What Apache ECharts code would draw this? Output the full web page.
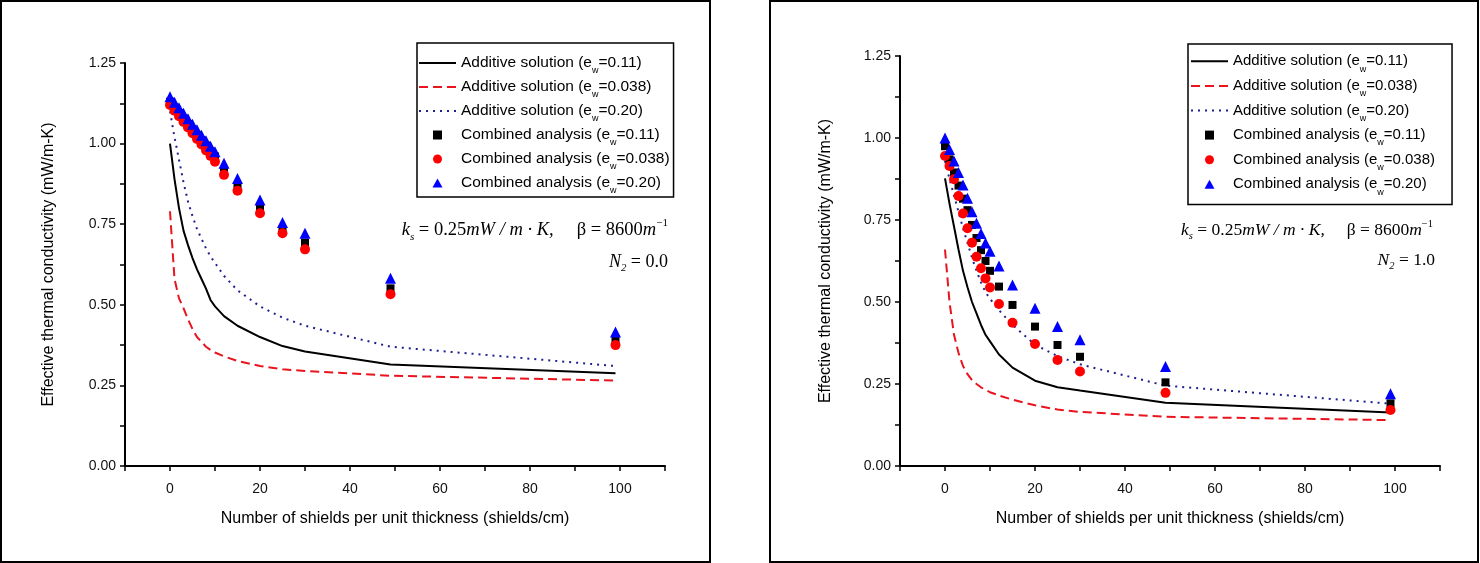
<!DOCTYPE html>
<html><head><meta charset="utf-8">
<script src="https://cdn.jsdelivr.net/npm/echarts@6/dist/echarts.min.js"></script>
<style>html,body{margin:0;padding:0;background:#fff}#c{width:1480px;height:563px}</style>
</head><body><div id="c"></div>
<script>
// Shield densities (shields/cm) at which all curves and points are given
const shieldsX = [0,1,2,3,4,5,6,7,8,9,10,12,15,20,25,30,49,99];

// Left panel, N2 = 0.0
const leftAdd011  = [1.00,0.89,0.80,0.73,0.685,0.645,0.61,0.58,0.55,0.515,0.495,0.465,0.435,0.40,0.372,0.355,0.315,0.288];
const leftAdd0038 = [0.79,0.58,0.52,0.49,0.455,0.425,0.40,0.385,0.37,0.36,0.352,0.34,0.326,0.31,0.30,0.295,0.28,0.265];
const leftAdd020  = [1.10,1.02,0.95,0.88,0.82,0.775,0.735,0.705,0.675,0.65,0.63,0.59,0.545,0.495,0.46,0.435,0.37,0.31];
const leftCA011   = [1.130,1.112,1.095,1.078,1.061,1.044,1.027,1.011,0.994,0.977,0.960,0.918,0.868,0.804,0.732,0.693,0.551,0.394];
const leftCA0038  = [1.120,1.102,1.085,1.067,1.050,1.032,1.014,0.997,0.979,0.962,0.944,0.903,0.854,0.784,0.722,0.672,0.533,0.375];
const leftCA020   = [1.145,1.128,1.111,1.094,1.077,1.060,1.043,1.026,1.009,0.992,0.975,0.939,0.892,0.825,0.755,0.722,0.582,0.416];

// Right panel, N2 = 1.0
const rightAdd011  = [0.877,0.80,0.73,0.66,0.595,0.545,0.50,0.465,0.43,0.40,0.38,0.34,0.30,0.26,0.24,0.23,0.193,0.163];
const rightAdd0038 = [0.66,0.50,0.40,0.345,0.305,0.28,0.262,0.25,0.24,0.232,0.225,0.215,0.202,0.185,0.172,0.165,0.15,0.14];
const rightAdd020  = [0.93,0.875,0.825,0.775,0.725,0.68,0.635,0.595,0.56,0.53,0.51,0.475,0.43,0.37,0.335,0.31,0.245,0.19];
const rightCA011   = [0.975,0.935,0.895,0.855,0.815,0.78,0.735,0.695,0.658,0.625,0.595,0.547,0.491,0.425,0.369,0.333,0.255,0.191];
const rightCA0038  = [0.945,0.915,0.874,0.823,0.770,0.725,0.681,0.638,0.603,0.572,0.544,0.494,0.437,0.372,0.323,0.288,0.223,0.171];
const rightCA020   = [1.00,0.965,0.93,0.895,0.857,0.816,0.775,0.74,0.709,0.68,0.655,0.61,0.552,0.481,0.425,0.385,0.303,0.220];

const seriesNames = [
  'Additive solution (e_w=0.11)',
  'Additive solution (e_w=0.038)',
  'Additive solution (e_w=0.20)',
  'Combined analysis (e_w=0.11)',
  'Combined analysis (e_w=0.038)',
  'Combined analysis (e_w=0.20)'
];
const xTitle = 'Number of shields per unit thickness (shields/cm)';
const yTitle = 'Effective thermal conductivity (mW/m-K)';

const SANS = '"Liberation Sans", Arial, sans-serif';
const SERIF = '"Liberation Serif", "Times New Roman", serif';

function pairs(ys){ return shieldsX.map((x,i)=>[x, ys[i]]); }

function xAxis(g){
  return {type:'value', gridIndex:g, min:-10, max:110, interval:10,
    axisLine:{show:true, onZero:false, lineStyle:{color:'#000', width:2}},
    axisTick:{show:true, length:5, lineStyle:{color:'#000', width:1.5}},
    splitLine:{show:false},
    axisLabel:{margin:16, fontSize:14, color:'#111', fontFamily:SANS,
      formatter: v => (v>=0 && v<=100 && v%20===0) ? String(v) : ''},
    name:xTitle, nameLocation:'middle', nameGap:45,
    nameTextStyle:{fontSize:16, color:'#000', fontFamily:SANS}};
}
function yAxis(g, gap){
  return {type:'value', gridIndex:g, min:0, max:1.25, interval:0.125,
    axisLine:{show:true, onZero:false, lineStyle:{color:'#000', width:2}},
    axisTick:{show:true, length:5, lineStyle:{color:'#000', width:1.5}},
    splitLine:{show:false},
    axisLabel:{margin:9, fontSize:14, color:'#111', fontFamily:SANS,
      formatter: v => { const k = v/0.25; return Math.abs(k-Math.round(k))<1e-6 ? v.toFixed(2) : ''; }},
    name:yTitle, nameLocation:'middle', nameRotate:90, nameGap:gap,
    nameTextStyle:{fontSize:16, color:'#000', fontFamily:SANS}};
}

function panelSeries(g, add011, add0038, add020, ca011, ca0038, ca020){
  const common = {xAxisIndex:g, yAxisIndex:g};
  return [
    Object.assign({type:'line', name:seriesNames[0], data:pairs(add011), symbol:'none', showSymbol:false,
      lineStyle:{color:'#000', width:2, type:'solid'}, itemStyle:{color:'#000'}, z:2}, common),
    Object.assign({type:'line', name:seriesNames[1], data:pairs(add0038), symbol:'none', showSymbol:false,
      lineStyle:{color:'#e8141e', width:2, type:[9,5]}, itemStyle:{color:'#e8141e'}, z:2}, common),
    Object.assign({type:'line', name:seriesNames[2], data:pairs(add020), symbol:'none', showSymbol:false,
      lineStyle:{color:'#1f1f8f', width:2, type:[2,5]}, itemStyle:{color:'#1f1f8f'}, z:2}, common),
    Object.assign({type:'scatter', name:seriesNames[3], data:pairs(ca011), symbol:'rect', symbolSize:8,
      itemStyle:{color:'#000', opacity:1}, z:3}, common),
    Object.assign({type:'scatter', name:seriesNames[4], data:pairs(ca0038), symbol:'circle', symbolSize:10,
      itemStyle:{color:'#ff0000', opacity:1}, z:4}, common),
    Object.assign({type:'scatter', name:seriesNames[5], data:pairs(ca020), symbol:'triangle', symbolSize:11,
      itemStyle:{color:'#0000ff', opacity:1}, z:5}, common)
  ];
}

const legendIcons = [null, null, null,
  'path://M0,0L10,0L10,10L0,10Z',
  'circle',
  'path://M5,0L10,9L0,9Z'];

function legend(left, top, fs, pad, lh){
  return {show:true, orient:'vertical', left:left, top:top,
    data: seriesNames.map((n,i) => legendIcons[i]
      ? {name:n, icon:legendIcons[i]}
      : {name:n, itemStyle:{opacity:0}}),
    backgroundColor:'#fff', borderColor:'#000', borderWidth:1.5, borderRadius:0,
    padding:pad, itemWidth:37, itemHeight:9, itemGap:0, symbolKeepAspect:true,
    selectedMode:false,
    formatter: n => n.replace('e_w', 'e{sub|w}'),
    textStyle:{fontSize:fs, fontFamily:SANS, color:'#000', lineHeight:lh,
      rich:{sub:{fontSize:9, fontFamily:SANS, color:'#000', verticalAlign:'bottom', lineHeight:7}}}};
}

function annot(x, y, size, txt){
  return {type:'text', x:x, y:y, silent:true, z:10,
    style:{text:txt, align:'right', verticalAlign:'middle',
      fontFamily:SERIF, fontSize:size, fontStyle:'italic', fill:'#000', lineHeight:size+6,
      rich:{
        s:{fontFamily:SERIF, fontSize:size*0.6, fontStyle:'italic', fill:'#000', verticalAlign:'bottom', lineHeight:size*0.6},
        n:{fontFamily:SERIF, fontSize:size, fontStyle:'normal', fill:'#000'},
        sup:{fontFamily:SERIF, fontSize:size*0.6, fontStyle:'normal', fill:'#000', verticalAlign:'top', lineHeight:size*0.6}
      }}};
}

const kText = 'k{s|s}{n| = 0.25}mW / m · K,     {n|β = 8600}m{sup|−1}';

const chart = echarts.init(document.getElementById('c'), null, {renderer:'canvas'});
chart.setOption({
  animation:false,
  backgroundColor:'#fff',
  grid:[
    {left:125, top:63, width:540, height:403, containLabel:false},
    {left:900, top:56, width:540, height:410, containLabel:false}
  ],
  xAxis:[xAxis(0), xAxis(1)],
  yAxis:[yAxis(0, 68), yAxis(1, 66)],
  legend:[legend(417, 43, 15.5, [8,4,2,1], 24), legend(1188, 44, 15, [5,17,8,2], 24.6)],
  series: panelSeries(0, leftAdd011, leftAdd0038, leftAdd020, leftCA011, leftCA0038, leftCA020)
    .concat(panelSeries(1, rightAdd011, rightAdd0038, rightAdd020, rightCA011, rightCA0038, rightCA020)),
  graphic:[
    {type:'rect', silent:true, shape:{x:1, y:1, width:709, height:561}, style:{fill:'none', stroke:'#000', lineWidth:2}},
    {type:'rect', silent:true, shape:{x:770, y:1, width:708, height:561}, style:{fill:'none', stroke:'#000', lineWidth:2}},
    annot(668, 230, 18.5, kText),
    annot(668, 262, 18, 'N{s|2}{n| = 0.0}'),
    annot(1433, 230, 17.5, kText),
    annot(1435, 260, 17.5, 'N{s|2}{n| = 1.0}')
  ]
});
</script></body></html>
